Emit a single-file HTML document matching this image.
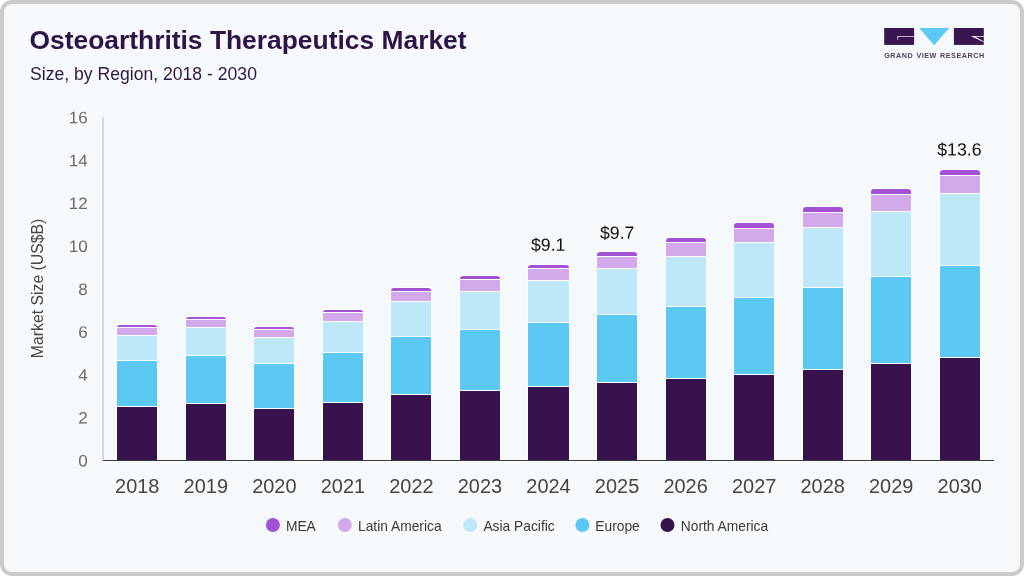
<!DOCTYPE html>
<html lang="en"><head><meta charset="utf-8"><title>Osteoarthritis Therapeutics Market</title>
<style>
html,body{margin:0;padding:0;background:#fff;}
body{width:1024px;height:576px;overflow:hidden;font-family:"Liberation Sans",Arial,Helvetica,sans-serif;}
#card{position:absolute;left:0;top:0;width:1016px;height:568px;border:4px solid #c9cbcc;border-radius:12px;background:#f5f9fc;}
svg{position:absolute;left:0;top:0;}
text{font-family:"Liberation Sans",Arial,Helvetica,sans-serif;}
.title{font-size:26.4px;font-weight:bold;fill:#2e1446;}
.sub{font-size:17.6px;fill:#2e1a40;}
.xl{font-size:19.3px;fill:#444;text-anchor:middle;}
.yl{font-size:16.6px;fill:#6b6b6b;text-anchor:end;}
.vl{font-size:17.7px;fill:#111;text-anchor:middle;}
.lg{font-size:15px;fill:#3a3a3a;}
.yt{font-size:16.8px;fill:#444;text-anchor:middle;}
.logo{font-size:7.2px;font-weight:bold;fill:#4b4259;letter-spacing:0.54px;word-spacing:0.6px;}
</style></head><body>
<div id="card"></div>
<svg width="1024" height="576" viewBox="0 0 1024 576">
<text x="29.5" y="49" class="title">Osteoarthritis Therapeutics Market</text>
<text x="30" y="79.9" class="sub">Size, by Region, 2018 - 2030</text>
<!-- logo -->
<g>
<rect x="884.2" y="28" width="29.9" height="16.9" fill="#391650"/>
<path d="M897.4,36 H914.1 V36.8 H898.2 V39.8 H897.4 Z" fill="#efe6f4"/>
<polygon points="919.1,28 949.2,28 934.15,45.2" fill="#5cc9f5"/>
<rect x="953.9" y="28" width="29.9" height="16.9" fill="#391650"/>
<path d="M971.5,36 H983.8 V36.8 H975.6 L983.8,41.4 V42.3 L971.5,36.6 Z" fill="#efe6f4"/>
<text x="884.2" y="57.5" class="logo" transform="rotate(0.02 884 57)">GRAND VIEW RESEARCH</text>
</g>
<!-- axes -->
<rect x="102.3" y="117" width="1.4" height="343.5" fill="#c6c9cd"/>
<rect x="103" y="460" width="891" height="1" fill="#3a3a3a"/>
<text transform="translate(87.7 466.40) rotate(0.03) scale(1.025 1)" class="yl">0</text>
<text transform="translate(87.7 423.52) rotate(0.03) scale(1.025 1)" class="yl">2</text>
<text transform="translate(87.7 380.64) rotate(0.03) scale(1.025 1)" class="yl">4</text>
<text transform="translate(87.7 337.76) rotate(0.03) scale(1.025 1)" class="yl">6</text>
<text transform="translate(87.7 294.88) rotate(0.03) scale(1.025 1)" class="yl">8</text>
<text transform="translate(87.7 252.00) rotate(0.03) scale(1.025 1)" class="yl">10</text>
<text transform="translate(87.7 209.12) rotate(0.03) scale(1.025 1)" class="yl">12</text>
<text transform="translate(87.7 166.24) rotate(0.03) scale(1.025 1)" class="yl">14</text>
<text transform="translate(87.7 123.36) rotate(0.03) scale(1.025 1)" class="yl">16</text>
<text class="yt" transform="translate(43.3 288.4) rotate(-90) scale(0.94 1)" x="0" y="0">Market Size (US$B)</text>
<path d="M116,460 V327 Q116,324 119,324 H155 Q158,324 158,327 V460 Z" fill="#ffffff"/>
<path d="M117,327 V327 Q117,325 120,325 H154 Q157,325 157,327 V327 Z" fill="#a352d6"/>
<rect x="117" y="328" width="40" height="7" fill="#d3a9ec"/>
<rect x="117" y="336" width="40" height="24" fill="#bee8fa"/>
<rect x="117" y="361" width="40" height="45" fill="#5cc9f5"/>
<rect x="117" y="407" width="40" height="53" fill="#37124d"/>
<text transform="translate(137.27 493) scale(1.035 1)" class="xl">2018</text>
<path d="M185,460 V319 Q185,316 188,316 H224 Q227,316 227,319 V460 Z" fill="#ffffff"/>
<path d="M186,319 V319 Q186,317 189,317 H223 Q226,317 226,319 V319 Z" fill="#a352d6"/>
<rect x="186" y="320" width="40" height="7" fill="#d3a9ec"/>
<rect x="186" y="328" width="40" height="27" fill="#bee8fa"/>
<rect x="186" y="356" width="40" height="47" fill="#5cc9f5"/>
<rect x="186" y="404" width="40" height="56" fill="#37124d"/>
<text transform="translate(205.81 493) scale(1.035 1)" class="xl">2019</text>
<path d="M253,460 V329 Q253,326 256,326 H292 Q295,326 295,329 V460 Z" fill="#ffffff"/>
<path d="M254,329 V329 Q254,327 257,327 H291 Q294,327 294,329 V329 Z" fill="#a352d6"/>
<rect x="254" y="330" width="40" height="7" fill="#d3a9ec"/>
<rect x="254" y="338" width="40" height="25" fill="#bee8fa"/>
<rect x="254" y="364" width="40" height="44" fill="#5cc9f5"/>
<rect x="254" y="409" width="40" height="51" fill="#37124d"/>
<text transform="translate(274.35 493) scale(1.035 1)" class="xl">2020</text>
<path d="M322,460 V312 Q322,309 325,309 H361 Q364,309 364,312 V460 Z" fill="#ffffff"/>
<path d="M323,312 V312 Q323,310 326,310 H360 Q363,310 363,312 V312 Z" fill="#a352d6"/>
<rect x="323" y="313" width="40" height="8" fill="#d3a9ec"/>
<rect x="323" y="322" width="40" height="30" fill="#bee8fa"/>
<rect x="323" y="353" width="40" height="49" fill="#5cc9f5"/>
<rect x="323" y="403" width="40" height="57" fill="#37124d"/>
<text transform="translate(342.89 493) scale(1.035 1)" class="xl">2021</text>
<path d="M390,460 V291 Q390,287 394,287 H428 Q432,287 432,291 V460 Z" fill="#ffffff"/>
<path d="M391,291 V291 Q391,288 394,288 H428 Q431,288 431,291 V291 Z" fill="#a352d6"/>
<rect x="391" y="292" width="40" height="9" fill="#d3a9ec"/>
<rect x="391" y="302" width="40" height="34" fill="#bee8fa"/>
<rect x="391" y="337" width="40" height="57" fill="#5cc9f5"/>
<rect x="391" y="395" width="40" height="65" fill="#37124d"/>
<text transform="translate(411.43 493) scale(1.035 1)" class="xl">2022</text>
<path d="M459,460 V279 Q459,275 463,275 H497 Q501,275 501,279 V460 Z" fill="#ffffff"/>
<path d="M460,279 V279 Q460,276 463,276 H497 Q500,276 500,279 V279 Z" fill="#a352d6"/>
<rect x="460" y="280" width="40" height="11" fill="#d3a9ec"/>
<rect x="460" y="292" width="40" height="37" fill="#bee8fa"/>
<rect x="460" y="330" width="40" height="60" fill="#5cc9f5"/>
<rect x="460" y="391" width="40" height="69" fill="#37124d"/>
<text transform="translate(479.97 493) scale(1.035 1)" class="xl">2023</text>
<path d="M527,460 V268 Q527,264 531,264 H566 Q570,264 570,268 V460 Z" fill="#ffffff"/>
<path d="M528,268 V268 Q528,265 531,265 H566 Q569,265 569,268 V268 Z" fill="#a352d6"/>
<rect x="528" y="269" width="41" height="11" fill="#d3a9ec"/>
<rect x="528" y="281" width="41" height="41" fill="#bee8fa"/>
<rect x="528" y="323" width="41" height="63" fill="#5cc9f5"/>
<rect x="528" y="387" width="41" height="73" fill="#37124d"/>
<text transform="translate(548.51 493) scale(1.035 1)" class="xl">2024</text>
<path d="M596,460 V255 Q596,251 600,251 H634 Q638,251 638,255 V460 Z" fill="#ffffff"/>
<path d="M597,256 V255 Q597,252 600,252 H634 Q637,252 637,255 V256 Z" fill="#a352d6"/>
<rect x="597" y="257" width="40" height="11" fill="#d3a9ec"/>
<rect x="597" y="269" width="40" height="45" fill="#bee8fa"/>
<rect x="597" y="315" width="40" height="67" fill="#5cc9f5"/>
<rect x="597" y="383" width="40" height="77" fill="#37124d"/>
<text transform="translate(617.05 493) scale(1.035 1)" class="xl">2025</text>
<path d="M665,460 V241 Q665,237 669,237 H703 Q707,237 707,241 V460 Z" fill="#ffffff"/>
<path d="M666,242 V241 Q666,238 669,238 H703 Q706,238 706,241 V242 Z" fill="#a352d6"/>
<rect x="666" y="243" width="40" height="13" fill="#d3a9ec"/>
<rect x="666" y="257" width="40" height="49" fill="#bee8fa"/>
<rect x="666" y="307" width="40" height="71" fill="#5cc9f5"/>
<rect x="666" y="379" width="40" height="81" fill="#37124d"/>
<text transform="translate(685.59 493) scale(1.035 1)" class="xl">2026</text>
<path d="M733,460 V226 Q733,222 737,222 H771 Q775,222 775,226 V460 Z" fill="#ffffff"/>
<path d="M734,228 V226 Q734,223 737,223 H771 Q774,223 774,226 V228 Z" fill="#a352d6"/>
<rect x="734" y="229" width="40" height="13" fill="#d3a9ec"/>
<rect x="734" y="243" width="40" height="54" fill="#bee8fa"/>
<rect x="734" y="298" width="40" height="76" fill="#5cc9f5"/>
<rect x="734" y="375" width="40" height="85" fill="#37124d"/>
<text transform="translate(754.13 493) scale(1.035 1)" class="xl">2027</text>
<path d="M802,460 V210 Q802,206 806,206 H840 Q844,206 844,210 V460 Z" fill="#ffffff"/>
<path d="M803,212 V210 Q803,207 806,207 H840 Q843,207 843,210 V212 Z" fill="#a352d6"/>
<rect x="803" y="213" width="40" height="14" fill="#d3a9ec"/>
<rect x="803" y="228" width="40" height="59" fill="#bee8fa"/>
<rect x="803" y="288" width="40" height="81" fill="#5cc9f5"/>
<rect x="803" y="370" width="40" height="90" fill="#37124d"/>
<text transform="translate(822.67 493) scale(1.035 1)" class="xl">2028</text>
<path d="M870,460 V192 Q870,188 874,188 H908 Q912,188 912,192 V460 Z" fill="#ffffff"/>
<path d="M871,194 V192 Q871,189 874,189 H908 Q911,189 911,192 V194 Z" fill="#a352d6"/>
<rect x="871" y="195" width="40" height="16" fill="#d3a9ec"/>
<rect x="871" y="212" width="40" height="64" fill="#bee8fa"/>
<rect x="871" y="277" width="40" height="86" fill="#5cc9f5"/>
<rect x="871" y="364" width="40" height="96" fill="#37124d"/>
<text transform="translate(891.21 493) scale(1.035 1)" class="xl">2029</text>
<path d="M939,460 V173 Q939,169 943,169 H977 Q981,169 981,173 V460 Z" fill="#ffffff"/>
<path d="M940,175 V173 Q940,170 943,170 H977 Q980,170 980,173 V175 Z" fill="#a352d6"/>
<rect x="940" y="176" width="40" height="17" fill="#d3a9ec"/>
<rect x="940" y="194" width="40" height="71" fill="#bee8fa"/>
<rect x="940" y="266" width="40" height="91" fill="#5cc9f5"/>
<rect x="940" y="358" width="40" height="102" fill="#37124d"/>
<text transform="translate(959.75 493) scale(1.035 1)" class="xl">2030</text>
<text transform="translate(548.2 250.8) rotate(0.03)" class="vl">$9.1</text>
<text transform="translate(617.2 238.8) rotate(0.03)" class="vl">$9.7</text>
<text transform="translate(959.4 155.6) rotate(0.03)" class="vl">$13.6</text>
<circle cx="272.9" cy="525" r="7" fill="#a352d6"/><text transform="translate(285.9 530.9) scale(0.92 1)" class="lg">MEA</text>
<circle cx="344.8" cy="525" r="7" fill="#d3a9ec"/><text transform="translate(358.0 530.9) scale(0.92 1)" class="lg">Latin America</text>
<circle cx="470.2" cy="525" r="7" fill="#bee8fa"/><text transform="translate(483.4 530.9) scale(0.92 1)" class="lg">Asia Pacific</text>
<circle cx="582.4" cy="525" r="7" fill="#5cc9f5"/><text transform="translate(595.3 530.9) scale(0.92 1)" class="lg">Europe</text>
<circle cx="667.5" cy="525" r="7" fill="#37124d"/><text transform="translate(680.8 530.9) scale(0.92 1)" class="lg">North America</text>
</svg>
</body></html>
